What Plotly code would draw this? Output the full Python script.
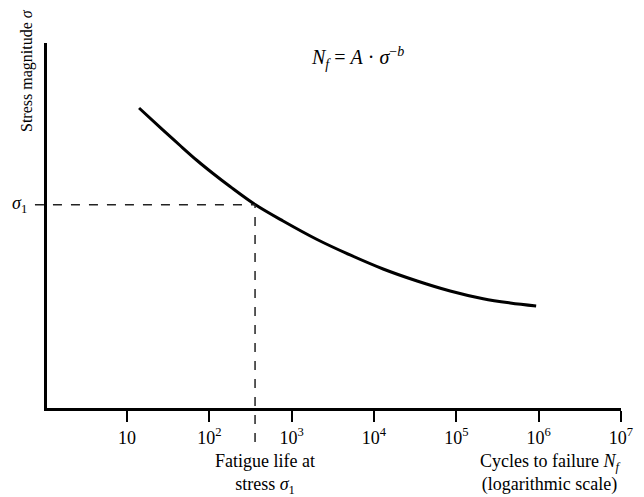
import math
import plotly.graph_objects as go

# S-N curve points (cycles, stress in arbitrary units)
cycles = [14.0, 27.4, 44.1, 70.9, 110.9, 178.4, 359.3, 786, 2035, 5124,
          12900, 33400, 84100, 211700, 450800, 932000]
stress = [82.19, 76.16, 71.92, 67.81, 64.25, 60.68, 55.75, 51.23, 46.16, 41.92,
          38.08, 34.79, 32.05, 29.92, 28.77, 27.95]

sigma1_stress = 55.7
sigma1_cycles = 359

tick_vals = [10, 100, 1000, 10000, 100000, 1000000, 10000000]
tick_text = ["10", "10<sup>2</sup>", "10<sup>3</sup>", "10<sup>4</sup>",
             "10<sup>5</sup>", "10<sup>6</sup>", "10<sup>7</sup>"]

FONT = "Liberation Serif"
X_RANGE = [0.028, 7.0]

fig = go.Figure()
fig.add_trace(go.Scatter(x=cycles, y=stress, mode="lines",
                         line=dict(color="black", width=3, shape="spline", smoothing=1.0),
                         hoverinfo="skip", showlegend=False))

fig.update_layout(
    width=644, height=497,
    margin=dict(l=47, r=23, t=43, b=89),
    paper_bgcolor="white", plot_bgcolor="white",
    font=dict(family=FONT, color="black", size=18),
    xaxis=dict(type="log", range=X_RANGE,
               tickvals=tick_vals, ticktext=tick_text,
               ticks="outside", ticklen=11, tickwidth=2, tickcolor="black",
               showline=True, linewidth=3, linecolor="black",
               showgrid=False, zeroline=False,
               tickfont=dict(family=FONT, size=18)),
    yaxis=dict(range=[0, 100], showticklabels=False, ticks="",
               showline=True, linewidth=3, linecolor="black",
               showgrid=False, zeroline=False),
)

dash_line = dict(color="#222222", width=1.5, dash="dash")
# horizontal dashed at sigma1
fig.add_shape(type="line", xref="paper", yref="y",
              x0=-0.021,
              x1=(math.log10(sigma1_cycles) - X_RANGE[0]) / (X_RANGE[1] - X_RANGE[0]),
              y0=sigma1_stress, y1=sigma1_stress, line=dash_line)
# vertical dashed at N(sigma1)
fig.add_shape(type="line", xref="x", yref="paper",
              x0=sigma1_cycles, x1=sigma1_cycles,
              y0=-0.093, y1=sigma1_stress / 100, line=dash_line)

fig.add_annotation(xref="paper", yref="y", x=-0.032, y=sigma1_stress,
                   text="<i>σ</i><sub>1</sub>", showarrow=False,
                   xanchor="right", yanchor="middle", font=dict(size=18))

fig.add_annotation(xref="paper", yref="paper", x=(27 - 47) / 574, y=(408 - 71) / 365,
                   text="Stress magnitude <i>σ</i>", textangle=-90,
                   showarrow=False, xanchor="center", yanchor="middle",
                   font=dict(size=16))

fig.add_annotation(xref="paper", yref="paper", x=(357 - 47) / 574, y=(408 - 58) / 365,
                   text="<i>N<sub>f</sub></i> = <i>A</i> · <i>σ</i><sup>−<i>b</i></sup>",
                   showarrow=False, xanchor="center", yanchor="middle",
                   font=dict(size=20))

fig.add_annotation(xref="paper", yref="paper", x=(265 - 47) / 574, y=-(449 - 408) / 365,
                   text="Fatigue life at<br>stress <i>σ</i><sub>1</sub>",
                   showarrow=False, xanchor="center", yanchor="top",
                   align="center", font=dict(size=18))

fig.add_annotation(xref="paper", yref="paper", x=(550 - 47) / 574, y=-(449 - 408) / 365,
                   text="Cycles to failure <i>N<sub>f</sub></i><br>(logarithmic scale)",
                   showarrow=False, xanchor="center", yanchor="top",
                   align="center", font=dict(size=18))

fig.write_html("out.html",
               config={"displayModeBar": False},
               post_script="document.body.style.margin='0';document.body.style.overflow='hidden';")
